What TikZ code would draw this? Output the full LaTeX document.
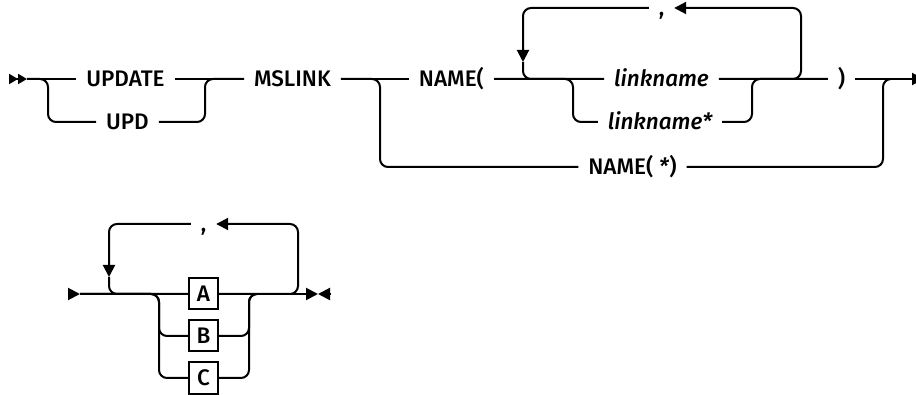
\documentclass[tikz,border=0pt]{standalone}
\usepackage{fontspec}
\setmainfont{Fira Sans}[UprightFont=* Medium,ItalicFont=* Medium Italic]
\usetikzlibrary{arrows.meta,positioning}
\newcommand{\railfont}{\fontsize{22.5pt}{26pt}\selectfont}
\tikzset{
  kw/.style={inner xsep=9pt,inner ysep=0pt,text height=15.4pt,text depth=0pt},
  var/.style={kw,font={\railfont\itshape}},
  choice/.style={draw,sharp corners,minimum width=29pt,minimum height=31pt,inner sep=0pt,text height=15.4pt,text depth=0pt},
  >={Triangle[length=12pt,width=12pt]}
}
\begin{document}
\begin{tikzpicture}[x=1pt,y=-1pt,font=\railfont,line width=2pt,rounded corners=8pt]
\useasboundingbox (0,0) rectangle (916,395);
% first diagram
\node[kw] (update) at (125.5,79) {UPDATE};
\node[kw] (upd) at (127.5,122) {UPD};
\node[kw] (mslink) at (292.5,79) {MSLINK};
\node[kw] (nameopen) at (451.5,79) {NAME(};
\node[var] (lname) at (661.5,79) {linkname};
\node[var] (lnamestar) at (660,122) {linkname*};
\node[kw] (nameclose) at (841.5,79) {)};
\node[kw] (nameall) at (632.5,167) {NAME( \textit{*})};
\node[kw] (sep1) at (661.5,8) {,};
\coordinate (start) at (9,79);
\coordinate (go) at (27,79);
\coordinate (fork1) at (48,79);
\coordinate (join1) at (205,79);
\coordinate (fork2) at (380,79);
\coordinate (join2) at (883,79);
\coordinate (fork3) at (573,79);
\coordinate (join3) at (752,79);
\coordinate (loopin) at (523,79);
\coordinate (loopout) at (801,79);
\coordinate (loopdown) at (523,62);
\coordinate (cont) at (924,79);
\draw[-{Triangle[length=9pt,width=10pt]Triangle[length=9pt,width=10pt]}] (start) -- (go);
\draw (go) -- (update);
\draw (go) -- (fork1) |- (upd);
\draw (update) -- (mslink);
\draw (upd) -| (join1) -- (mslink);
\draw (mslink) -- (nameopen);
\draw (mslink) -- (fork2) |- (nameall);
\draw (nameall) -| (join2) -- ([xshift=8pt]join2);
\draw (nameopen) -- (lname);
\draw (nameopen) -- (fork3) |- (lnamestar);
\draw (lname) -- (nameclose);
\draw (lnamestar) -| (join3) -- (nameclose);
\draw[->] (nameclose) -- (cont);
\draw[->] (lname) -- (loopout) |- (sep1);
\draw[->] (sep1) -| (loopdown);
\draw (loopdown) -- (loopin) -- (lname);
% second diagram
\node[kw] (sep2) at (203.5,224) {,};
\node[choice] (optA) at (203.5,294) {A};
\node[choice] (optB) at (203.5,336) {B};
\node[choice] (optC) at (203.5,378) {C};
\coordinate (start2) at (68,294);
\coordinate (go2) at (80,294);
\coordinate (fork4) at (159,294);
\coordinate (join4) at (249,294);
\coordinate (loopin2) at (109,294);
\coordinate (loopout2) at (298,294);
\coordinate (loopdown2) at (109,277);
\coordinate (stop) at (318,294);
\coordinate (stopback) at (330,294);
\draw[->] (start2) -- (go2);
\draw (go2) -- (optA);
\draw (go2) -- (fork4) |- (optB);
\draw (go2) -- (fork4) |- (optC);
\draw (optB) -| (join4) -- ([xshift=8pt]join4);
\draw (optC) -| (join4) -- ([xshift=8pt]join4);
\draw[->] (optA) -- (stop);
\draw[->] (stopback) -- (stop);
\draw[->] (optA) -- (loopout2) |- (sep2);
\draw[->] (sep2) -| (loopdown2);
\draw (loopdown2) -- (loopin2) -- (optA);
\end{tikzpicture}
\end{document}
